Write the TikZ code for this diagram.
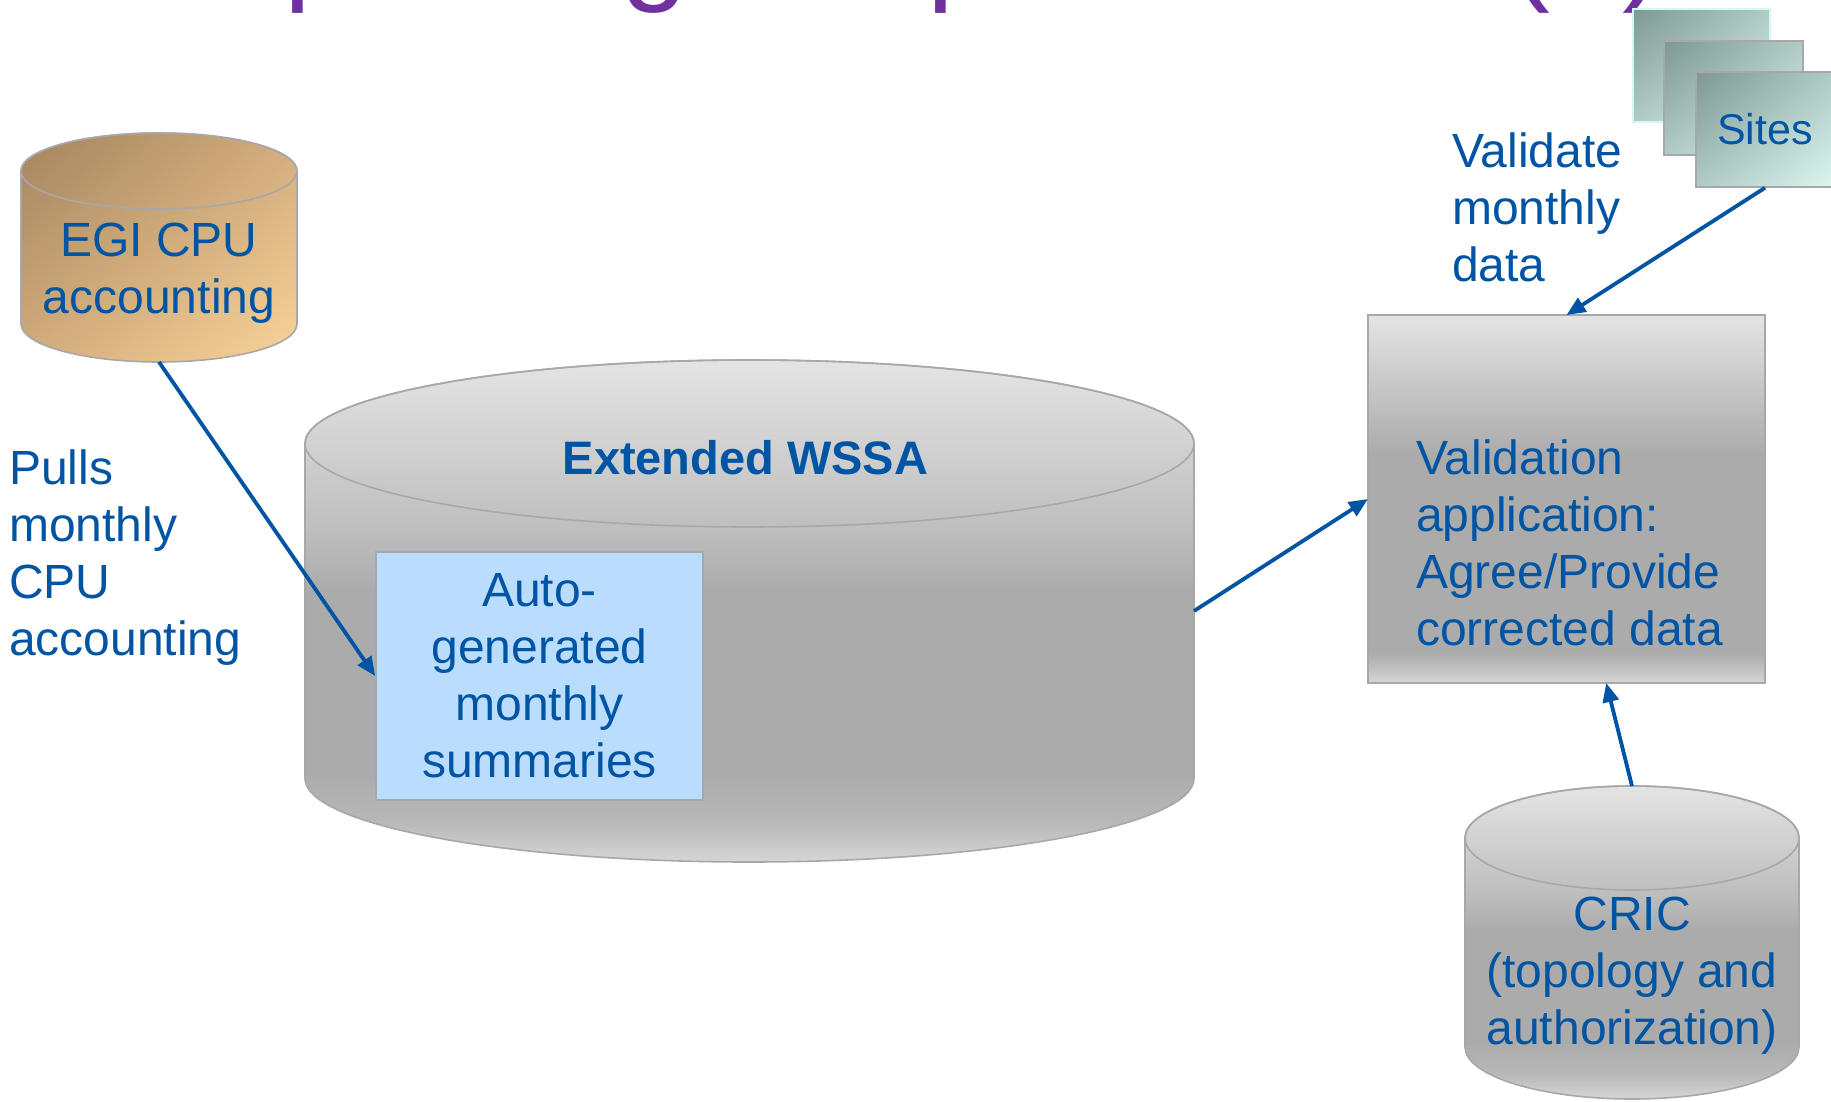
\documentclass[tikz,border=0pt]{standalone}
\usepackage{fontspec}
\setmainfont{Liberation Sans}
\usetikzlibrary{arrows.meta,calc,shadings}
\definecolor{txtblue}{HTML}{0054A4}
\definecolor{ttlpurple}{HTML}{7030A0}
\definecolor{edgegray}{HTML}{A8A8A8}
\definecolor{boxblue}{HTML}{BADDFD}
\definecolor{egidark}{HTML}{A4845F}
\definecolor{egimid}{HTML}{D2AC7C}
\definecolor{egilight}{HTML}{F8D49A}
\definecolor{sitedark}{HTML}{7E9894}
\definecolor{sitemid}{HTML}{AFCBC5}
\definecolor{sitelight}{HTML}{DCF6F0}
\definecolor{mintedge}{HTML}{D2FAF0}
\definecolor{gTop}{HTML}{E4E4E4}
\definecolor{gUp}{HTML}{BEBEBE}
\definecolor{gMid}{HTML}{ABABAB}
\definecolor{gLow}{HTML}{B8B8B8}
\definecolor{gBot}{HTML}{D6D6D6}
\pgfdeclareverticalshading{cylgray}{100bp}{color(0bp)=(gBot); color(25bp)=(gBot); color(29bp)=(gLow); color(34bp)=(gMid); color(52bp)=(gMid); color(58bp)=(gUp); color(75bp)=(gTop); color(100bp)=(gTop)}
\pgfdeclareverticalshading{boxgray}{100bp}{color(0bp)=(gBot); color(25bp)=(gBot); color(29bp)=(gMid); color(56bp)=(gMid); color(75bp)=(gTop); color(100bp)=(gTop)}
\begin{document}
\begin{tikzpicture}[x=1pt,y=-1pt,
  lbl/.style={text=txtblue, font=\fontsize{48}{57}\selectfont, inner sep=0pt},
  ttl/.style={text=ttlpurple, font=\fontsize{120}{120}\selectfont, inner sep=0pt, anchor=base west},
  conn/.style={draw=txtblue, line width=3.8pt, -{Triangle[length=19pt,width=16pt]}},
  anchorbox/.style={inner sep=0pt, outer sep=0pt},
  cylout/.style={draw=edgegray, line width=1.6pt},
  egishade/.style={shade, upper left=egidark, upper right=egimid, lower left=egimid, lower right=egilight},
  siteshade/.style={shade, upper left=sitedark, upper right=sitemid, lower left=sitemid, lower right=sitelight},
]
\useasboundingbox (0,0) rectangle (1831,1102);
\begin{scope}
\clip (0,0) rectangle (1831,1102);
% cut-off title
\node[ttl] (ta) at (284,-11) {p};
\node[ttl] (tb) at (621,-11) {g};
\node[ttl] (tc) at (927,-11) {p};
\node[ttl] (td) at (1510,-11) {(};
\node[ttl] (te) at (1622,-11) {)};

% EGI cylinder
\path[egishade, cylout] (21,171) -- (21,324) arc[start angle=180,end angle=0,x radius=138,y radius=38] -- (297,171) arc[start angle=0,end angle=-180,x radius=138,y radius=38] -- cycle;
\draw[cylout] (159,171) ellipse[x radius=138, y radius=38];
\node[anchorbox, minimum width=276pt, minimum height=229pt] (egi) at (159,247.5) {};

% WSSA cylinder
\path[shade, shading=cylgray, cylout] (305,443.5) -- (305,778.5) arc[start angle=180,end angle=0,x radius=444.5,y radius=83.5] -- (1194,443.5) arc[start angle=0,end angle=-180,x radius=444.5,y radius=83.5] -- cycle;
\draw[cylout] (749.5,443.5) ellipse[x radius=444.5, y radius=83.5];
\node[anchorbox, minimum width=889pt, minimum height=502pt] (wssa) at (749.5,611) {};

% CRIC cylinder
\path[shade, shading=cylgray, cylout] (1465,838) -- (1465,1047) arc[start angle=180,end angle=0,x radius=167,y radius=52] -- (1799,838) arc[start angle=0,end angle=-180,x radius=167,y radius=52] -- cycle;
\draw[cylout] (1632,838) ellipse[x radius=167, y radius=52];
\node[anchorbox, minimum width=334pt, minimum height=313pt] (cric) at (1632,942.5) {};

% auto-generated box
\node[lbl, align=center, draw=edgegray, line width=1.6pt, fill=boxblue, minimum width=327pt, minimum height=248pt] (auto) at (539.5,676) {Auto-\\generated\\monthly\\summaries};

% validation box
\node[anchorbox, shade, shading=boxgray, draw=edgegray, line width=1.6pt, minimum width=397pt, minimum height=368pt] (val) at (1566.5,499) {};

% sites stack
\path[siteshade, draw=mintedge, line width=1.5pt] (1633,9) rectangle (1770,122);
\path[siteshade, draw=edgegray, line width=1.6pt] (1664,41) rectangle (1803,155);
\node[siteshade, draw=edgegray, line width=1.6pt, inner sep=0pt, minimum width=138pt, minimum height=115pt, text=txtblue, font=\fontsize{43}{50}\selectfont] (sites) at (1765,129.5) {Sites};

% texts (anchor=base is the baseline of the last line)
\node[lbl, align=center, anchor=base] (egiT) at (159,313) {EGI CPU\\accounting};
\node[lbl, font=\bfseries\fontsize{47}{57}\selectfont, anchor=base] (wssaT) at (745.5,474) {Extended WSSA};
\node[lbl, align=left, anchor=base west] (valT) at (1416,645) {Validation\\application:\\Agree/Provide\\corrected data};
\node[lbl, align=center, anchor=base] (cricT) at (1632,1044) {CRIC\\(topology and\\authorization)};
\node[lbl, align=left, anchor=base west] (pulls) at (9,655) {Pulls\\monthly\\CPU\\accounting};
\node[lbl, align=left, anchor=base west] (validate) at (1452,281) {Validate\\monthly\\data};

% connectors
\draw[conn] (egi.south) -- (auto.west);
\draw[conn] (wssa.east) -- (val.west);
\draw[conn] (sites.south) -- (val.north);
\draw[conn] (cric.north) -- ($(val.south west)!0.6!(val.south east)$);
\end{scope}
\end{tikzpicture}
\end{document}
